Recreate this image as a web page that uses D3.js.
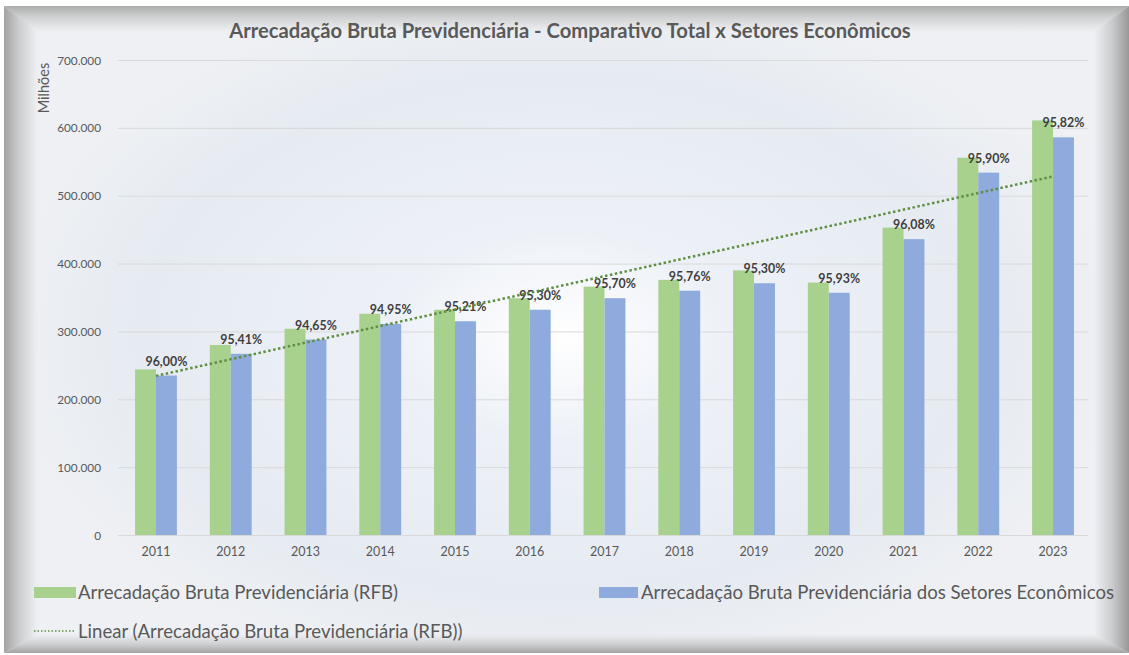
<!DOCTYPE html>
<html>
<head>
<meta charset="utf-8">
<script src="https://cdn.jsdelivr.net/npm/d3@7/dist/d3.min.js"></script>
<style>
  html, body { margin: 0; padding: 0; background: #fff; }
  svg { display: block; font-family: Lato, "Open Sans", sans-serif; }
</style>
</head>
<body>
<div id="chart"></div>
<script>
// Arrecadação Bruta Previdenciária — valores em milhões (R$)
const years = ['2011','2012','2013','2014','2015','2016','2017','2018','2019','2020','2021','2022','2023'];
const totalRFB = [244000, 280000, 304000, 326000, 332000, 349000, 366000, 376000, 390000, 372000, 453000, 556000, 611000];
const setores  = [235000, 267000, 288000, 311000, 315000, 332000, 349000, 360000, 371000, 357000, 436000, 534000, 586000];
const shareLabels = ['96,00%','95,41%','94,65%','94,95%','95,21%','95,30%','95,70%','95,76%','95,30%','95,93%','96,08%','95,90%','95,82%'];
const yTicks = [0, 100000, 200000, 300000, 400000, 500000, 600000, 700000];

const seriesNames = ['Arrecadação Bruta Previdenciária (RFB)', 'Arrecadação Bruta Previdenciária dos Setores Econômicos'];
const trendName = 'Linear (Arrecadação Bruta Previdenciária (RFB))';
const title = 'Arrecadação Bruta Previdenciária - Comparativo Total x Setores Econômicos';

const W = 1129, H = 655;
const GREEN = '#a9d18e', BLUE = '#8faadc', TREND = '#5f8f42';
const TEXT = '#595959';

const svg = d3.select('#chart').append('svg').attr('width', W).attr('height', H);
const defs = svg.append('defs');

// panel background
const rg = defs.append('radialGradient').attr('id', 'bg')
  .attr('gradientUnits', 'userSpaceOnUse')
  .attr('cx', 560).attr('cy', 335).attr('r', 560)
  .attr('gradientTransform', 'translate(560,335) scale(1,0.62) translate(-560,-335)');
rg.append('stop').attr('offset', '0%').attr('stop-color', '#ffffff');
rg.append('stop').attr('offset', '30%').attr('stop-color', '#edf1f7');
rg.append('stop').attr('offset', '75%').attr('stop-color', '#e6ebf2');
rg.append('stop').attr('offset', '100%').attr('stop-color', '#eef0f3');

svg.append('rect').attr('x', 4).attr('y', 6).attr('width', W - 4).attr('height', 647).attr('fill', '#eff1f4');
svg.append('rect').attr('x', 36).attr('y', 30).attr('width', 1060).attr('height', 606).attr('fill', 'url(#bg)');

// bevelled frame shading
function edgeGrad(id, x1, y1, x2, y2, dark) {
  const g = defs.append('linearGradient').attr('id', id)
    .attr('gradientUnits', 'userSpaceOnUse')
    .attr('x1', x1).attr('y1', y1).attr('x2', x2).attr('y2', y2);
  g.append('stop').attr('offset', '0%').attr('stop-color', dark).attr('stop-opacity', 1);
  g.append('stop').attr('offset', '45%').attr('stop-color', dark).attr('stop-opacity', 0.45);
  g.append('stop').attr('offset', '100%').attr('stop-color', dark).attr('stop-opacity', 0);
}
const L = 4, T = 6, R = W, B = 653;
const li = 38, ti = 32, ri = 1094, bi = 634;
edgeGrad('gl', L, 0, li, 0, '#a2a2a2');
edgeGrad('gt', 0, T, 0, ti, '#adadad');
edgeGrad('gr', R, 0, ri, 0, '#979797');
edgeGrad('gb', 0, B, 0, bi, '#a3a3a3');
const frame = svg.append('g');
frame.append('polygon').attr('points', `${L},${T} ${li},${ti} ${li},${bi} ${L},${B}`).attr('fill', 'url(#gl)');
frame.append('polygon').attr('points', `${L},${T} ${R},${T} ${ri},${ti} ${li},${ti}`).attr('fill', 'url(#gt)');
frame.append('polygon').attr('points', `${R},${T} ${R},${B} ${ri},${bi} ${ri},${ti}`).attr('fill', 'url(#gr)');
frame.append('polygon').attr('points', `${L},${B} ${li},${bi} ${ri},${bi} ${R},${B}`).attr('fill', 'url(#gb)');

// scales
const x0 = 118.6, x1 = 1090.4, yTop = 60, yBase = 535;
const x = d3.scaleBand().domain(years).range([x0, x1]).paddingInner(0.44).paddingOuter(0.22);
const xs = d3.scaleBand().domain([0, 1]).range([0, x.bandwidth()]);
const y = d3.scaleLinear().domain([0, 700000]).range([yBase, yTop]);

const ptBR = d3.formatLocale({ decimal: ',', thousands: '.', grouping: [3], currency: ['R$', ''] });
const fmt = ptBR.format(',.0f');

// gridlines
svg.append('g').selectAll('line').data(yTicks).join('line')
  .attr('x1', 118).attr('x2', 1088)
  .attr('y1', d => y(d) + 0.5).attr('y2', d => y(d) + 0.5)
  .attr('stroke', '#d9d9d9').attr('stroke-width', 1);

// y axis labels
const yAxis = svg.append('g').attr('transform', 'translate(101,0)')
  .call(d3.axisLeft(y).tickValues(yTicks).tickFormat(fmt).tickSize(0).tickPadding(0));
yAxis.select('.domain').remove();
yAxis.selectAll('text').attr('fill', TEXT).attr('font-size', 11.8).attr('font-family', 'Lato, sans-serif').attr('dy', '0.35em');

svg.append('text')
  .attr('transform', 'translate(49,88) rotate(-90)')
  .attr('text-anchor', 'middle').attr('fill', TEXT).attr('font-size', 14.5)
  .text('Milhões');

// x axis labels
const xAxis = svg.append('g').attr('transform', `translate(0,${yBase})`)
  .call(d3.axisBottom(x).tickSize(0).tickPadding(12));
xAxis.select('.domain').remove();
xAxis.selectAll('text').attr('fill', TEXT).attr('font-size', 12.5).attr('font-family', 'Lato, sans-serif');

// bars
const groups = svg.append('g').selectAll('g').data(years).join('g')
  .attr('transform', d => `translate(${x(d)},0)`);
groups.append('rect')
  .attr('x', xs(0)).attr('width', xs.bandwidth())
  .attr('y', (d, i) => y(totalRFB[i])).attr('height', (d, i) => yBase - y(totalRFB[i]))
  .attr('fill', GREEN);
groups.append('rect')
  .attr('x', xs(1)).attr('width', xs.bandwidth())
  .attr('y', (d, i) => y(setores[i])).attr('height', (d, i) => yBase - y(setores[i]))
  .attr('fill', BLUE);

// linear trendline (least squares on RFB series, as Excel does)
const n = years.length;
const idx = d3.range(n);
const mx = d3.mean(idx), my = d3.mean(totalRFB);
const slope = d3.sum(idx, i => (i - mx) * (totalRFB[i] - my)) / d3.sum(idx, i => (i - mx) ** 2);
const icpt = my - slope * mx;
const cx = i => x(years[i]) + x.bandwidth() / 2;
svg.append('line')
  .attr('x1', cx(0)).attr('y1', y(icpt))
  .attr('x2', cx(n - 1)).attr('y2', y(icpt + slope * (n - 1)))
  .attr('stroke', TREND).attr('stroke-width', 2.5).attr('stroke-dasharray', '2.5,2.5');

// share labels
groups.append('text')
  .attr('x', xs(0) + xs.bandwidth() / 2)
  .attr('y', (d, i) => y(setores[i]) - 10)
  .attr('fill', '#404040').attr('font-size', 12.4).attr('font-weight', 700)
  .text((d, i) => shareLabels[i]);

// title
svg.append('text').attr('x', 570).attr('y', 38).attr('text-anchor', 'middle')
  .attr('fill', TEXT).attr('font-size', 20.2).attr('font-weight', 700)
  .text(title);

// legend
const lg = svg.append('g').attr('font-size', 18.6).attr('fill', TEXT);
lg.append('rect').attr('x', 34).attr('y', 587).attr('width', 42).attr('height', 11).attr('fill', GREEN);
lg.append('text').attr('x', 78).attr('y', 599).text(seriesNames[0]);
lg.append('rect').attr('x', 599).attr('y', 587).attr('width', 39).attr('height', 11).attr('fill', BLUE);
lg.append('text').attr('x', 641).attr('y', 599).text(seriesNames[1]);
lg.append('line').attr('x1', 34).attr('x2', 75).attr('y1', 631).attr('y2', 631)
  .attr('stroke', TREND).attr('stroke-width', 1.5).attr('stroke-dasharray', '1.5,2');
lg.append('text').attr('x', 78).attr('y', 638).text(trendName);
</script>
</body>
</html>
